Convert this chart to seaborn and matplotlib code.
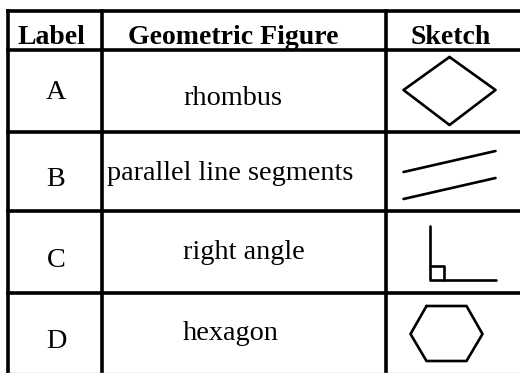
import pandas as pd
import seaborn as sns
import matplotlib.pyplot as plt

# table contents
headers = ['Label', 'Geometric Figure', 'Sketch']
row_labels = ['A', 'B', 'C', 'D']
figure_names = ['rhombus', 'parallel line segments', 'right angle', 'hexagon']

# sketch outlines, in pixels relative to the top-left corner of each sketch cell
rhombus_x = [64, 110, 64, 18, 64]
rhombus_y = [7, 40, 75, 40, 7]
parallel_x = [[18, 110], [18, 110]]
parallel_y = [[40, 19], [67, 46]]
angle_x = [[44, 44, 110], [44, 58, 58]]
angle_y = [[15, 69, 69], [55, 55, 69]]
hexagon_x = [41, 81, 97, 81, 41, 25, 41]
hexagon_y = [13, 13, 41, 68, 68, 41, 13]

sns.set_style('white')
plt.rcParams['font.family'] = ['Liberation Serif', 'DejaVu Serif']
plt.rcParams['text.color'] = 'black'

fig = plt.figure(figsize=(5.2, 3.73), dpi=100)
ax = fig.add_axes([0, 0, 1, 1])

# layout (pixels)
col_edges = [7.5, 102, 385.5]
row_edges = [10.5, 50, 132, 211, 293]
sketch_left = col_edges[2]

# grid
ax.hlines(row_edges, col_edges[0], 520, color='black', lw=2.6, capstyle='projecting')
ax.vlines(col_edges, row_edges[0], 373, color='black', lw=2.6, capstyle='projecting')
ax.hlines(372.5, col_edges[0], 520, color='#b4b4b4', lw=1)

# header
head_x = [18, 128, 410]
for x, h in zip(head_x, headers):
    ax.text(x, 44, h, fontsize=20, fontweight='bold', va='baseline', ha='left', color='black')

# rows
label_base = [99, 186, 267, 348]
name_base = [105, 180, 259, 340]
name_x = [183, 107, 183, 183]
for i in range(4):
    ax.text(56, label_base[i], row_labels[i], fontsize=20.3, va='baseline', ha='center', color='black')
    ax.text(name_x[i], name_base[i], figure_names[i], fontsize=20.3, va='baseline', ha='left', color='black')

# sketches
parts = []
def add(xs, ys, row, name):
    for x, y in zip(xs, ys):
        parts.append({'x': sketch_left + x, 'y': row_edges[row + 1] + y, 'part': name})

add(rhombus_x, rhombus_y, 0, 'rhombus')
for k in range(2):
    add(parallel_x[k], parallel_y[k], 1, f'par{k}')
    add(angle_x[k], angle_y[k], 2, f'ang{k}')
add(hexagon_x, hexagon_y, 3, 'hexagon')
shapes = pd.DataFrame(parts)

sns.lineplot(data=shapes, x='x', y='y', units='part', estimator=None, sort=False,
             color='black', lw=1.9, ax=ax)
ax.set_xlim(0, 520)
ax.set_ylim(373, 0)
ax.axis('off')

fig.savefig('out.png', dpi=100)
